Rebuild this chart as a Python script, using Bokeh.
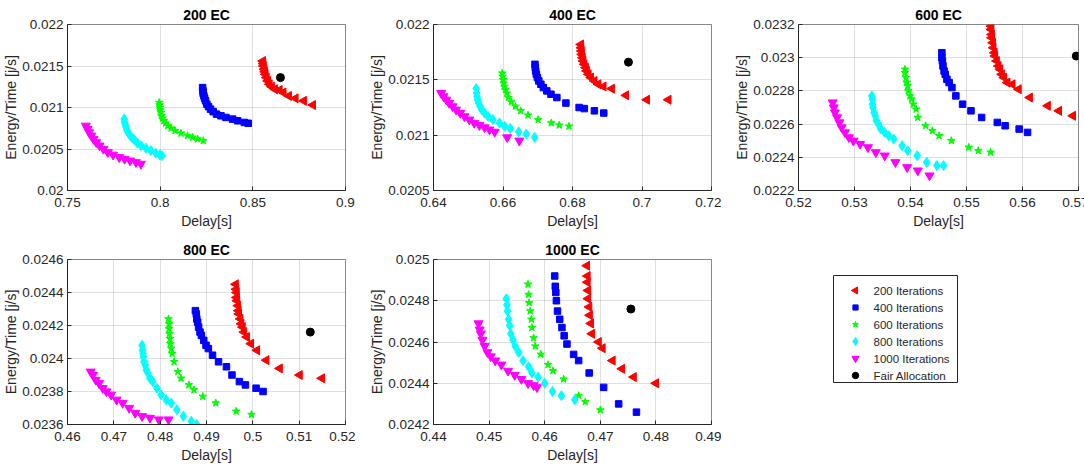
from math import pi

from bokeh.core.properties import value
from bokeh.embed import file_html
from bokeh.layouts import column, row
from bokeh.models import FixedTicker, Range1d
from bokeh.plotting import figure
from bokeh.resources import INLINE

# ---------------------------------------------------------------------------
# Delay [s] vs Energy/Time [j/s] for each EC setting and iteration count
# ---------------------------------------------------------------------------

# ---- 200 EC ----
ec200_it200_x = [0.8554, 0.8556, 0.8558, 0.8561, 0.8565, 0.8568, 0.8574, 0.8581, 0.859, 0.8602, 0.8619, 0.8644, 0.8665, 0.8694, 0.873, 0.8775, 0.8824]
ec200_it200_y = [0.02156, 0.02153, 0.0215, 0.02146, 0.02143, 0.0214, 0.02136, 0.02132, 0.02128, 0.02125, 0.02122, 0.02121, 0.02118, 0.02114, 0.02111, 0.02108, 0.02103]
ec200_it400_x = [0.8229, 0.8231, 0.8232, 0.8236, 0.824, 0.8245, 0.8252, 0.8261, 0.8272, 0.8286, 0.8304, 0.8328, 0.8355, 0.8391, 0.8418, 0.8454, 0.8475]
ec200_it400_y = [0.02124, 0.0212, 0.02117, 0.02114, 0.02111, 0.02108, 0.02104, 0.02101, 0.02098, 0.02095, 0.02092, 0.0209, 0.02088, 0.02086, 0.02084, 0.02082, 0.02081]
ec200_it600_x = [0.7995, 0.7997, 0.7999, 0.8, 0.8004, 0.8007, 0.8013, 0.802, 0.8029, 0.8041, 0.8059, 0.8081, 0.8112, 0.8148, 0.8175, 0.8202, 0.8233]
ec200_it600_y = [0.02106, 0.02103, 0.021, 0.02097, 0.02094, 0.0209, 0.02087, 0.02084, 0.02081, 0.02078, 0.02075, 0.02072, 0.02069, 0.02066, 0.02064, 0.02062, 0.0206]
ec200_it800_x = [0.7806, 0.7807, 0.7811, 0.7815, 0.782, 0.7827, 0.7836, 0.7847, 0.7861, 0.7878, 0.7897, 0.7923, 0.795, 0.7977, 0.7998, 0.8009]
ec200_it800_y = [0.02086, 0.02083, 0.0208, 0.02077, 0.02073, 0.0207, 0.02067, 0.02064, 0.02061, 0.02057, 0.02054, 0.02051, 0.02048, 0.02045, 0.02043, 0.02042]
ec200_it1000_x = [0.7599, 0.7608, 0.7617, 0.7628, 0.764, 0.7655, 0.7673, 0.7694, 0.7718, 0.7746, 0.7779, 0.7808, 0.7837, 0.7869, 0.7896]
ec200_it1000_y = [0.02078, 0.02074, 0.0207, 0.02066, 0.02062, 0.02058, 0.02054, 0.0205, 0.02046, 0.02043, 0.0204, 0.02038, 0.02036, 0.02034, 0.02032]
ec200_fair_x = [0.8649]
ec200_fair_y = [0.02136]

# ---- 400 EC ----
ec400_it200_x = [0.6824, 0.6825, 0.6826, 0.6827, 0.6829, 0.6831, 0.6834, 0.6838, 0.6841, 0.6846, 0.6853, 0.6863, 0.6874, 0.6889, 0.6913, 0.6954, 0.7014, 0.7076]
ec400_it200_y = [0.02182, 0.02179, 0.02176, 0.02173, 0.0217, 0.02167, 0.02164, 0.02161, 0.02158, 0.02155, 0.02152, 0.02149, 0.02146, 0.02144, 0.02142, 0.02136, 0.02132, 0.02132]
ec400_it400_x = [0.6692, 0.6693, 0.6694, 0.6696, 0.6699, 0.6703, 0.6709, 0.6716, 0.6726, 0.6738, 0.6755, 0.6781, 0.6819, 0.6834, 0.6863, 0.689]
ec400_it400_y = [0.02164, 0.02161, 0.02158, 0.02155, 0.02152, 0.02149, 0.02146, 0.02143, 0.0214, 0.02137, 0.02134, 0.02129, 0.02125, 0.02124, 0.02122, 0.0212]
ec400_it600_x = [0.6598, 0.6599, 0.66, 0.6602, 0.6604, 0.6607, 0.6611, 0.6616, 0.6624, 0.6636, 0.6651, 0.6672, 0.6701, 0.6739, 0.6762, 0.679]
ec400_it600_y = [0.02156, 0.02153, 0.0215, 0.02147, 0.02144, 0.02141, 0.02138, 0.02134, 0.0213, 0.02126, 0.02122, 0.02118, 0.02114, 0.02111, 0.02109, 0.02108]
ec400_it800_x = [0.6523, 0.6524, 0.6525, 0.6527, 0.653, 0.6534, 0.6539, 0.6547, 0.6557, 0.6571, 0.659, 0.6605, 0.6621, 0.6645, 0.6667, 0.6691]
ec400_it800_y = [0.02142, 0.02138, 0.02135, 0.02132, 0.02129, 0.02126, 0.02123, 0.0212, 0.02117, 0.02114, 0.02111, 0.02108, 0.02106, 0.02103, 0.02101, 0.02098]
ec400_it1000_x = [0.6422, 0.6429, 0.6437, 0.6445, 0.6455, 0.6465, 0.6477, 0.6489, 0.6503, 0.6517, 0.6532, 0.6547, 0.6561, 0.6576, 0.6612, 0.6647]
ec400_it1000_y = [0.02138, 0.02135, 0.02132, 0.02129, 0.02126, 0.02123, 0.0212, 0.02117, 0.02114, 0.02111, 0.02109, 0.02107, 0.02105, 0.02103, 0.02098, 0.02095]
ec400_fair_x = [0.6961]
ec400_fair_y = [0.02166]

# ---- 600 EC ----
ec600_it200_x = [0.5544, 0.5544, 0.5545, 0.5545, 0.5547, 0.5548, 0.555, 0.5551, 0.5554, 0.5557, 0.556, 0.5563, 0.5567, 0.5573, 0.5582, 0.5593, 0.5613, 0.5645, 0.5665, 0.569]
ec600_it200_y = [0.02319, 0.02317, 0.02314, 0.02312, 0.02309, 0.02306, 0.02303, 0.02301, 0.02298, 0.02295, 0.02293, 0.0229, 0.02288, 0.02285, 0.02284, 0.02281, 0.02276, 0.02271, 0.02268, 0.02265]
ec600_it400_x = [0.5456, 0.5456, 0.5457, 0.5458, 0.546, 0.5462, 0.5465, 0.5469, 0.5474, 0.5481, 0.5493, 0.5508, 0.5527, 0.5555, 0.5569, 0.5594, 0.5609]
ec600_it400_y = [0.02303, 0.023, 0.02298, 0.02295, 0.02292, 0.0229, 0.02287, 0.02285, 0.02282, 0.02277, 0.02272, 0.02268, 0.02264, 0.02261, 0.02259, 0.02257, 0.02255]
ec600_it600_x = [0.539, 0.539, 0.5392, 0.5393, 0.5395, 0.5396, 0.5399, 0.5402, 0.5405, 0.541, 0.5413, 0.5427, 0.5439, 0.5451, 0.5473, 0.5504, 0.5521, 0.5543]
ec600_it600_y = [0.02293, 0.02291, 0.02288, 0.02285, 0.02283, 0.0228, 0.02277, 0.02275, 0.02272, 0.02269, 0.02264, 0.02259, 0.02256, 0.02253, 0.0225, 0.02246, 0.02244, 0.02243]
ec600_it800_x = [0.5331, 0.5332, 0.5332, 0.5333, 0.5335, 0.5337, 0.5339, 0.5343, 0.5347, 0.5354, 0.5361, 0.537, 0.5385, 0.5395, 0.5412, 0.5429, 0.5447, 0.5459]
ec600_it800_y = [0.02277, 0.02275, 0.02272, 0.0227, 0.02267, 0.02265, 0.02262, 0.0226, 0.02257, 0.02255, 0.02253, 0.02251, 0.02247, 0.02244, 0.02241, 0.02237, 0.02235, 0.02235]
ec600_it1000_x = [0.5261, 0.5263, 0.5265, 0.5269, 0.5273, 0.5277, 0.5283, 0.529, 0.5298, 0.531, 0.5324, 0.5338, 0.5354, 0.5373, 0.5394, 0.5413, 0.5434]
ec600_it1000_y = [0.02273, 0.0227, 0.02267, 0.02264, 0.02261, 0.02258, 0.02255, 0.02252, 0.0225, 0.02248, 0.02246, 0.02243, 0.02241, 0.02237, 0.02234, 0.02232, 0.02229]
ec600_fair_x = [0.5696]
ec600_fair_y = [0.02301]

# ---- 800 EC ----
ec800_it200_x = [0.4963, 0.4964, 0.4965, 0.4965, 0.4966, 0.4968, 0.4969, 0.497, 0.4973, 0.4975, 0.4978, 0.4981, 0.4987, 0.4996, 0.5009, 0.5029, 0.5058, 0.5101, 0.5149]
ec800_it200_y = [0.02445, 0.02442, 0.0244, 0.02437, 0.02435, 0.02432, 0.02429, 0.02427, 0.02424, 0.02421, 0.02419, 0.02416, 0.02413, 0.02409, 0.02405, 0.02399, 0.02394, 0.0239, 0.02388]
ec800_it400_x = [0.4876, 0.4878, 0.4879, 0.4881, 0.4883, 0.4886, 0.4889, 0.4894, 0.4899, 0.4904, 0.4913, 0.4926, 0.4943, 0.4955, 0.4971, 0.4984, 0.5007, 0.5022]
ec800_it400_y = [0.02429, 0.02427, 0.02424, 0.02422, 0.02419, 0.02416, 0.02414, 0.02411, 0.02408, 0.02406, 0.02402, 0.02398, 0.02395, 0.0239, 0.02386, 0.02384, 0.02382, 0.0238]
ec800_it600_x = [0.4818, 0.4819, 0.4819, 0.482, 0.4821, 0.4822, 0.4824, 0.4826, 0.483, 0.4838, 0.4845, 0.4862, 0.4873, 0.4892, 0.492, 0.4964, 0.4997]
ec800_it600_y = [0.02424, 0.02421, 0.02418, 0.02415, 0.02412, 0.02409, 0.02406, 0.02403, 0.02398, 0.02392, 0.02388, 0.02384, 0.02381, 0.02377, 0.02373, 0.02368, 0.02366]
ec800_it800_x = [0.4761, 0.4762, 0.4763, 0.4764, 0.4765, 0.4768, 0.477, 0.4774, 0.4778, 0.4784, 0.4793, 0.4802, 0.4813, 0.4824, 0.4836, 0.485, 0.4867, 0.4879]
ec800_it800_y = [0.02408, 0.02405, 0.02403, 0.02401, 0.02398, 0.02396, 0.02393, 0.02391, 0.02388, 0.02386, 0.02382, 0.02378, 0.02375, 0.02373, 0.02369, 0.02365, 0.02362, 0.0236]
ec800_it1000_x = [0.465, 0.4655, 0.4661, 0.4668, 0.4676, 0.4684, 0.4694, 0.4706, 0.4719, 0.4733, 0.4746, 0.4761, 0.4778, 0.4797, 0.4818]
ec800_it1000_y = [0.02392, 0.0239, 0.02387, 0.02385, 0.02382, 0.0238, 0.02378, 0.02375, 0.02373, 0.0237, 0.02367, 0.02365, 0.02364, 0.02363, 0.02363]
ec800_fair_x = [0.5124]
ec800_fair_y = [0.02416]

# ---- 1000 EC ----
ec1000_it200_x = [0.4676, 0.4677, 0.4677, 0.4678, 0.4678, 0.468, 0.4681, 0.4683, 0.4685, 0.4697, 0.4704, 0.4722, 0.4739, 0.476, 0.48]
ec1000_it200_y = [0.02497, 0.02492, 0.02489, 0.02485, 0.02481, 0.02477, 0.02473, 0.02469, 0.02464, 0.0246, 0.02457, 0.02451, 0.02447, 0.02443, 0.0244]
ec1000_it400_x = [0.4618, 0.4619, 0.462, 0.4621, 0.4623, 0.4627, 0.4631, 0.4635, 0.464, 0.4652, 0.4661, 0.468, 0.4706, 0.4733, 0.4765]
ec1000_it400_y = [0.02492, 0.02487, 0.02484, 0.0248, 0.02475, 0.02471, 0.02467, 0.02463, 0.02459, 0.02454, 0.02451, 0.02445, 0.02438, 0.0243, 0.02426]
ec1000_it600_x = [0.457, 0.4571, 0.4572, 0.4574, 0.4576, 0.4577, 0.458, 0.4583, 0.4593, 0.4606, 0.4615, 0.4634, 0.4661, 0.4673, 0.47]
ec1000_it600_y = [0.02488, 0.02483, 0.02479, 0.02475, 0.02471, 0.02467, 0.02462, 0.02458, 0.02454, 0.02449, 0.02446, 0.02442, 0.02434, 0.02431, 0.02427]
ec1000_it800_x = [0.4531, 0.4532, 0.4533, 0.4535, 0.4537, 0.4539, 0.4543, 0.4547, 0.4553, 0.4561, 0.4571, 0.4577, 0.4588, 0.46, 0.4614, 0.463, 0.4654]
ec1000_it800_y = [0.02481, 0.02478, 0.02475, 0.02471, 0.02468, 0.02464, 0.02461, 0.02458, 0.02455, 0.02451, 0.02448, 0.02445, 0.02443, 0.0244, 0.02436, 0.02434, 0.02432]
ec1000_it1000_x = [0.4481, 0.4483, 0.4485, 0.4488, 0.4492, 0.4497, 0.4503, 0.4511, 0.4522, 0.4534, 0.4546, 0.4558, 0.457, 0.458, 0.4586]
ec1000_it1000_y = [0.02469, 0.02466, 0.02464, 0.02461, 0.02458, 0.02455, 0.02453, 0.02451, 0.02449, 0.02446, 0.02444, 0.02442, 0.0244, 0.02439, 0.02438]
ec1000_fair_x = [0.4755]
ec1000_fair_y = [0.02476]

# ---- axis ticks ----
ec200_xticks = ["0.75", "0.8", "0.85", "0.9"]
ec200_yticks = ["0.02", "0.0205", "0.021", "0.0215", "0.022"]
ec400_xticks = ["0.64", "0.66", "0.68", "0.7", "0.72"]
ec400_yticks = ["0.0205", "0.021", "0.0215", "0.022"]
ec600_xticks = ["0.52", "0.53", "0.54", "0.55", "0.56", "0.57"]
ec600_yticks = ["0.0222", "0.0224", "0.0226", "0.0228", "0.023", "0.0232"]
ec800_xticks = ["0.46", "0.47", "0.48", "0.49", "0.5", "0.51", "0.52"]
ec800_yticks = ["0.0236", "0.0238", "0.024", "0.0242", "0.0244", "0.0246"]
ec1000_xticks = ["0.44", "0.45", "0.46", "0.47", "0.48", "0.49"]
ec1000_yticks = ["0.0242", "0.0244", "0.0246", "0.0248", "0.025"]

series_names = ["200 Iterations", "400 Iterations", "600 Iterations",
                "800 Iterations", "1000 Iterations", "Fair Allocation"]

FONT = "Liberation Sans"
AX = "#262626"

# marker, colour, size, rotation for each series
STYLES = [
    ("triangle", "#ff0000", 9, pi / 2),
    ("square", "#0000ff", 6.5, 0.0),
    ("star", "#00ff00", 8, 0.0),
    ("diamond", "#00ffff", 10, 0.0),
    ("inverted_triangle", "#ff00ff", 9, 0.0),
    ("circle", "#000000", 8, 0.0),
]


def panel(title, xticks, yticks, series, left, frame_w, frame_h, top, bottom, right):
    xt = [float(s) for s in xticks]
    yt = [float(s) for s in yticks]
    p = figure(
        frame_width=frame_w, frame_height=frame_h,
        x_range=Range1d(xt[0], xt[-1]), y_range=Range1d(yt[0], yt[-1]),
        min_border_left=left, min_border_right=right,
        min_border_top=top, min_border_bottom=bottom,
        toolbar_location=None, output_backend="svg",
        background_fill_color="white", border_fill_color="white",
        outline_line_color=AX, outline_line_alpha=0.55,
    )
    p.title.text = title
    p.title.align = "center"
    p.title.text_font = FONT
    p.title.text_font_size = "14px"
    p.title.text_font_style = "bold"
    p.title.text_color = "black"
    p.title.standoff = 4

    p.xaxis.ticker = FixedTicker(ticks=xt)
    p.yaxis.ticker = FixedTicker(ticks=yt)
    p.xaxis.major_label_overrides = dict(zip(xt, xticks))
    p.yaxis.major_label_overrides = dict(zip(yt, yticks))
    p.xaxis.axis_label = "Delay[s]"
    p.yaxis.axis_label = "Energy/Time [j/s]"

    for ax in (p.xaxis[0], p.yaxis[0]):
        ax.axis_line_color = AX
        ax.major_tick_line_color = AX
        ax.major_tick_in = 4
        ax.major_tick_out = 0
        ax.minor_tick_in = 0
        ax.minor_tick_out = 0
        ax.major_label_text_font = FONT
        ax.major_label_text_font_size = "13.5px"
        ax.major_label_text_color = AX
        ax.axis_label_text_font = FONT
        ax.axis_label_text_font_size = "14px"
        ax.axis_label_text_font_style = "normal"
        ax.axis_label_text_color = AX
    p.xaxis.major_label_standoff = 7
    p.xaxis.axis_label_standoff = 3
    p.yaxis.major_label_standoff = 4
    p.yaxis.axis_label_standoff = 0

    p.grid.grid_line_color = AX
    p.grid.grid_line_alpha = 0.15

    for (xs, ys), (marker, color, size, angle) in zip(series, STYLES):
        p.scatter(xs, ys, marker=marker, size=size, angle=angle,
                  fill_color=color, line_color=color)
    return p


p200 = panel("200 EC", ec200_xticks, ec200_yticks,
             [(ec200_it200_x, ec200_it200_y), (ec200_it400_x, ec200_it400_y),
              (ec200_it600_x, ec200_it600_y), (ec200_it800_x, ec200_it800_y),
              (ec200_it1000_x, ec200_it1000_y), (ec200_fair_x, ec200_fair_y)],
             62, 278, 166, 24, 45, 10)
p400 = panel("400 EC", ec400_xticks, ec400_yticks,
             [(ec400_it200_x, ec400_it200_y), (ec400_it400_x, ec400_it400_y),
              (ec400_it600_x, ec400_it600_y), (ec400_it800_x, ec400_it800_y),
              (ec400_it1000_x, ec400_it1000_y), (ec400_fair_x, ec400_fair_y)],
             78, 278, 166, 24, 45, 10)
p600 = panel("600 EC", ec600_xticks, ec600_yticks,
             [(ec600_it200_x, ec600_it200_y), (ec600_it400_x, ec600_it400_y),
              (ec600_it600_x, ec600_it600_y), (ec600_it800_x, ec600_it800_y),
              (ec600_it1000_x, ec600_it1000_y), (ec600_fair_x, ec600_fair_y)],
             77, 280, 166, 24, 45, 10)
p800 = panel("800 EC", ec800_xticks, ec800_yticks,
             [(ec800_it200_x, ec800_it200_y), (ec800_it400_x, ec800_it400_y),
              (ec800_it600_x, ec800_it600_y), (ec800_it800_x, ec800_it800_y),
              (ec800_it1000_x, ec800_it1000_y), (ec800_fair_x, ec800_fair_y)],
             62, 278, 165, 24, 45, 10)
p1000 = panel("1000 EC", ec1000_xticks, ec1000_yticks,
              [(ec1000_it200_x, ec1000_it200_y), (ec1000_it400_x, ec1000_it400_y),
               (ec1000_it600_x, ec1000_it600_y), (ec1000_it800_x, ec1000_it800_y),
               (ec1000_it1000_x, ec1000_it1000_y), (ec1000_fair_x, ec1000_fair_y)],
              78, 278, 165, 24, 45, 10)

# ---- key panel in the empty sixth slot (pixel-scaled frame) ----
KEY_W, KEY_H = 367, 165
pleg = figure(frame_width=KEY_W, frame_height=KEY_H,
              min_border_left=0, min_border_right=0,
              min_border_top=24, min_border_bottom=45,
              x_range=Range1d(0, KEY_W), y_range=Range1d(KEY_H, 0),
              x_axis_location=None, y_axis_location=None,
              toolbar_location=None, output_backend="svg",
              outline_line_color=None, background_fill_color="white",
              border_fill_color="white")
pleg.grid.visible = False

box_left, box_right, box_top, box_bottom = 112, 236, 16, 123
row_first, row_step = 31, 17
glyph_x, text_x = 134, 152

pleg.quad(left=[box_left], right=[box_right], top=[box_top], bottom=[box_bottom],
          fill_color="white", line_color=AX, line_width=1)
rows_y = [row_first + i * row_step for i in range(len(series_names))]
for yy, (marker, color, size, angle) in zip(rows_y, STYLES):
    pleg.scatter([glyph_x], [yy], marker=marker, size=size * 0.8, angle=angle,
                 fill_color=color, line_color=color)
pleg.text(x=[text_x] * len(series_names), y=rows_y, text=series_names,
          text_font=value(FONT), text_font_size=value("11.5px"),
          text_color=AX, text_baseline="middle", text_align="left")

layout = column(row(p200, p400, p600), row(p800, p1000, pleg))

with open("out.html", "w") as f:
    f.write(file_html(layout, INLINE))
